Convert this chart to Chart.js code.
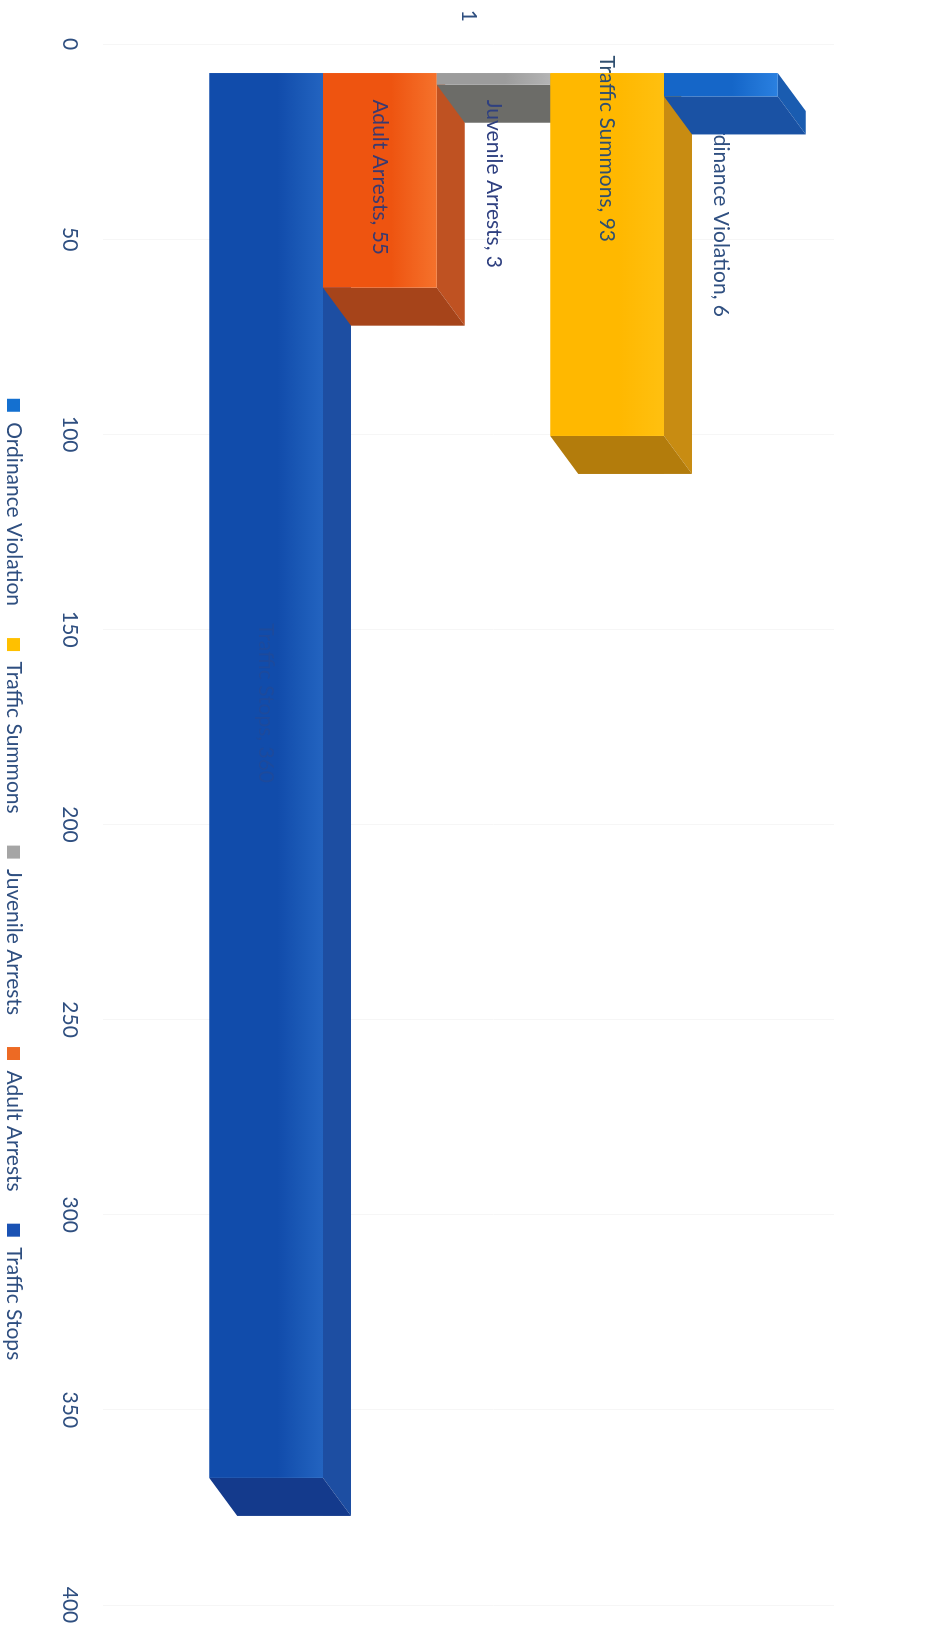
<!DOCTYPE html>
<html>
<head>
<meta charset="utf-8">
<title>Enforcement activity</title>
<script src="https://cdn.jsdelivr.net/npm/chart.js@4"></script>
<style>
    html, body { margin: 0; padding: 0; background: #fff; overflow: hidden; }
    #page { position: relative; width: 925px; height: 1631px; overflow: hidden; }
    /* the scan is lying on its side: chart is drawn flat and turned 90deg */
    #chart {
        position: absolute; left: 0; top: 0;
        transform-origin: top left;
        transform: translateX(925px) rotate(90deg);
    }
</style>
</head>
<body>
<div id="page"><canvas id="chart" width="1631" height="925"></canvas></div>
<script>
const categories = ["1"];
const seriesNames = ["Ordinance Violation", "Traffic Summons", "Juvenile Arrests", "Adult Arrests", "Traffic Stops"];
const seriesValues = [6, 93, 3, 55, 360];
const valueTicks = [0, 400, 50];

/* bar faces */
const frontDark = ["#1566c8", "#ffb800", "#9c9c9c", "#ee5410", "#114cab"];
const frontLight = ["#2a80e0", "#ffc010", "#b4b4b4", "#f5722c", "#2364c0"];
const sideColors = ["#1a5cb0", "#c88c12", "#77776f", "#bf5222", "#1d4ea2"];
const endColors = ["#1a52a4", "#b37c0c", "#6c6c68", "#a6441a", "#143a8c"];
const legendColors = ["#1470d0", "#ffc000", "#a5a5a5", "#ed6a24", "#1a52b4"];

/* data labels: where the text ends, px past the bar start */
const labelEnds = [244, 169, 195, 182, 710];
const labelColors = ["#2f4f80", "#2f4f70", "#2f4080", "#3a3a70", "#1d4a9c"];
const labelBehindBar = [true, false, false, false, false];

const textColor = "#2f4f80";
const fontFamily = "Lato, 'Open Sans', sans-serif";
const depthX = 38;
const depthY = 28;

function drawFace(ctx, points, color) {
    ctx.fillStyle = color;
    ctx.beginPath();
    points.forEach((p, i) => i ? ctx.lineTo(p[0], p[1]) : ctx.moveTo(p[0], p[1]));
    ctx.closePath();
    ctx.fill();
}

function drawLabel(chart, index, bar) {
    const ctx = chart.ctx;
    ctx.save();
    ctx.font = "21px " + fontFamily;
    ctx.fillStyle = labelColors[index];
    ctx.textAlign = "right";
    ctx.textBaseline = "middle";
    ctx.fillText(seriesNames[index] + ", " + seriesValues[index], bar.base + labelEnds[index], bar.y);
    ctx.restore();
}

/* ------------------------------------------------------------
   3D faces + labels
------------------------------------------------------------- */
const bar3d = {
    id: "bar3d",
    afterLayout(chart) {
        // legend sits off centre in the original (it clips to its own box, so move the whole box)
        const legend = chart.legend;
        legend.left += 77;
        legend.right += 77;
        legend.top = 911 - 10 - legend.options.labels.padding;
        legend.bottom = chart.height;
        // tick labels get clipped to the axis box, so let it run to the edge
        chart.scales.x.bottom = chart.height;
    },
    beforeDatasetDraw(chart, args) {
        const ctx = chart.ctx;
        const i = args.index;
        const bar = args.meta.data[0];
        const top = bar.y - bar.height / 2;
        const bottom = bar.y + bar.height / 2;

        if (labelBehindBar[i]) drawLabel(chart, i, bar);

        ctx.save();
        drawFace(ctx, [
            [bar.base, top],
            [bar.base + depthX, top - depthY],
            [bar.x + depthX, top - depthY],
            [bar.x, top]
        ], sideColors[i]);
        drawFace(ctx, [
            [bar.x, top],
            [bar.x + depthX, top - depthY],
            [bar.x + depthX, bottom - depthY],
            [bar.x, bottom]
        ], endColors[i]);
        ctx.restore();

        const shade = ctx.createLinearGradient(0, top, 0, bottom);
        shade.addColorStop(0, frontLight[i]);
        shade.addColorStop(0.4, frontDark[i]);
        shade.addColorStop(1, frontDark[i]);
        bar.options.backgroundColor = shade;
    },
    afterDatasetDraw(chart, args) {
        if (!labelBehindBar[args.index]) drawLabel(chart, args.index, args.meta.data[0]);
    }
};

const datasets = seriesNames.map((name, i) => ({
    label: name,
    data: [seriesValues[i]],
    xAxisID: "xBars",
    backgroundColor: legendColors[i],
    borderWidth: 0,
    categoryPercentage: 0.835,
    barPercentage: 1
}));

new Chart(document.querySelector("#chart"), {
    type: "bar",
    data: { labels: categories, datasets },
    plugins: [bar3d],
    options: {
        indexAxis: "y",
        responsive: false,
        animation: false,
        layout: { padding: { top: 91, right: 26, bottom: 50, left: 0 } },
        scales: {
            x: {
                type: "linear",
                position: "bottom",
                weight: 1,
                min: valueTicks[0],
                max: valueTicks[1],
                // long invisible tick marks push the labels down to the legend side
                grid: { drawOnChartArea: false, color: "rgba(0,0,0,0)", tickLength: 67 },
                border: { display: false },
                afterFit: scale => { scale.height = 40; },
                ticks: {
                    stepSize: valueTicks[2],
                    padding: 4,
                    maxRotation: 0,
                    color: textColor,
                    font: { family: fontFamily, size: 21 }
                }
            },
            // bars stand in front of the axis, so they get a shifted copy of it
            xBars: {
                type: "linear",
                axis: "x",
                display: false,
                min: valueTicks[0] - 7.44,
                max: valueTicks[1] - 7.44
            },
            // very faint gridlines left on the scan
            xGrid: {
                type: "linear",
                axis: "x",
                position: "bottom",
                weight: 0,
                min: valueTicks[0] - 24.1,
                max: valueTicks[1] - 24.1,
                border: { display: false },
                grid: { color: "#f6f6f6", tickLength: 50 },
                afterFit: scale => { scale.height = 0; },
                ticks: { display: false, stepSize: valueTicks[2] }
            },
            y: {
                type: "category",
                grid: { display: false },
                border: { display: false },
                afterFit: scale => { scale.width = 44; },
                ticks: {
                    padding: 14,
                    labelOffset: 25,
                    color: textColor,
                    font: { family: fontFamily, size: 21 }
                }
            }
        },
        plugins: {
            tooltip: { enabled: false },
            legend: {
                position: "bottom",
                labels: {
                    boxWidth: 13,
                    boxHeight: 13,
                    padding: 32,
                    color: textColor,
                    font: { family: fontFamily, size: 21 }
                }
            }
        }
    }
});
</script>
</body>
</html>
